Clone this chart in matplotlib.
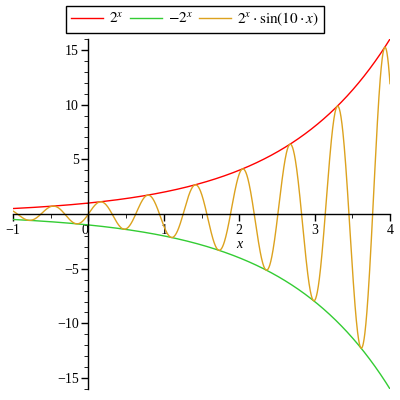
import matplotlib.pyplot as plt
import numpy as np
from matplotlib.ticker import MultipleLocator

plt.rcParams['font.family'] = ['Liberation Serif', 'DejaVu Serif']
plt.rcParams['mathtext.fontset'] = 'stix'

# curves shown in the legend, on the plotted x range
x_min, x_max = -1, 4
y_min, y_max = -16, 16
x = np.linspace(x_min, x_max, 1500)
labels = ['$2^{x}$', '$-2^{x}$', r'$2^{x}\cdot\sin(10\cdot x)$']
colors = ['#ff0000', '#33cc33', '#dca21e']
series = [2.0**x, -(2.0**x), 2.0**x*np.sin(10*x)]

xticks = [-1, 0, 1, 2, 3, 4]
yticks = [-15, -10, -5, 5, 10, 15]

fig = plt.figure(figsize=(4, 4), dpi=100)
ax = fig.add_axes([13/400, 1-389/400, 377/400, 350/400])

lines = []
for ys, c, lab in zip(series, colors, labels):
    l, = ax.plot(x, ys, color=c, lw=1, label=lab)
    lines.append(l)

ax.set_xlim(x_min, x_max)
ax.set_ylim(y_min, y_max)
ax.spines['left'].set_position(('data', 0))
ax.spines['bottom'].set_position(('data', 0))
ax.spines['top'].set_visible(False)
ax.spines['right'].set_visible(False)
for s in ['left', 'bottom']:
    ax.spines[s].set_linewidth(1)

ax.set_xticks(xticks)
ax.set_xticklabels(['\u22121', '0', '1', '2', '3', '4'])
ax.xaxis.set_minor_locator(MultipleLocator(0.5))
ax.set_yticks(yticks)
ax.set_yticklabels(['\u221215', '\u221210', '\u22125', '5', '10', '15'])
ax.yaxis.set_minor_locator(MultipleLocator(1))
ax.tick_params(axis='both', direction='out', labelsize=10, width=1)
ax.tick_params(axis='both', which='major', length=5, pad=2)
ax.tick_params(axis='both', which='minor', length=3)
# zero label sits just left of the vertical axis
ax.get_xticklabels()[1].set_horizontalalignment('right')

ax.text(2.0, -2.75, 'x', style='italic', fontsize=10, ha='center', va='center')

fig.legend(handles=lines, loc='upper center', bbox_to_anchor=(0.4875, 0.985),
           ncol=3, frameon=True, fancybox=False, edgecolor='black',
           fontsize=11, handlelength=2.1, handletextpad=0.4, columnspacing=0.4,
           borderpad=0.3, borderaxespad=0, framealpha=1)

fig.savefig('out.png', dpi=100)
